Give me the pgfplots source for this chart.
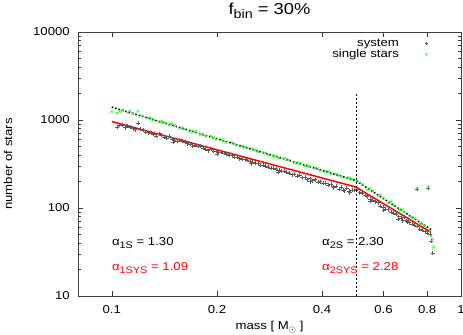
\documentclass[border=0pt]{standalone}
\usepackage{pgfplots}
\usepackage{pgfplotstable}
\pgfplotsset{compat=1.18}
\usepackage{fontspec}
\setmainfont{Liberation Sans}[FakeStretch=1.15]
\newcommand\sub[1]{\raisebox{-0.45ex}{\fontsize{9.5}{10}\selectfont #1}}
\definecolor{ptgreen}{RGB}{40,235,40}
\definecolor{ptgrey}{RGB}{90,90,90}

\pgfplotstableread{
m N
0.1035 830
0.1071 880
0.1109 850
0.1148 800
0.1188 920
0.1229 760
0.1272 720
0.1317 690
0.1363 700
0.1411 640
0.1460 650
0.1500 560
0.1511 590
0.1564 600
0.1619 560
0.1675 530
0.1734 520
0.1795 500
0.1857 470
0.1923 470
0.1990 440
0.2000 410
0.2059 430
0.2132 410
0.2206 395
0.2283 380
0.2363 360
0.2446 350
0.2500 320
0.2532 330
0.2620 320
0.2712 305
0.2807 290
0.2905 285
0.3000 255
0.3007 270
0.3112 265
0.3221 250
0.3334 245
0.3450 235
0.3571 225
0.3696 215
0.3700 200
0.3825 210
0.3959 200
0.4098 190
0.4241 185
0.4300 175
0.4390 178
0.4543 172
0.4600 160
0.4702 168
0.4800 150
0.4867 160
0.5037 165
0.5214 148
0.5396 135
0.5500 120
0.5585 122
0.5780 115
0.5983 102
0.6000 95
0.6192 96
0.6409 88
0.6600 75
0.6633 80
0.6800 72
0.6865 78
0.7000 70
0.7106 68
0.7354 64
0.7480 165
0.7612 58
0.7878 55
0.8050 168
0.8154 50
0.8200 42
0.8300 31
0.1053 870
0.1090 820
0.1128 830
0.1168 780
0.1208 790
0.1250 730
0.1294 705
0.1340 660
0.1387 670
0.1435 620
0.1485 610
0.1537 580
0.1591 570
0.1647 540
0.1704 505
0.1764 500
0.1826 475
0.1890 450
0.1956 445
0.2024 425
0.2095 420
0.2168 400
0.2244 380
0.2322 365
0.2404 355
0.2488 340
0.2576 325
0.2666 310
0.2759 300
0.2856 285
0.2956 275
0.3059 262
0.3166 255
0.3277 240
0.3391 230
0.3510 222
0.3633 210
0.3760 205
0.3891 195
0.4028 190
0.4169 182
0.4315 170
0.4466 165
0.4622 158
0.4784 155
0.4951 160
0.5125 150
0.5304 140
0.5490 125
0.5682 118
0.5881 106
0.6087 98
0.6300 90
0.6521 85
0.6749 76
0.6985 72
0.7230 66
0.7483 62
0.7745 56
0.8015 52
}\systab

\pgfplotstableread{
m N
0.1000 1250
0.1035 1200
0.1071 1290
0.1109 1220
0.1148 1180
0.1188 1260
0.1229 1110
0.1272 1060
0.1317 1010
0.1363 950
0.1411 940
0.1460 880
0.1511 870
0.1564 800
0.1619 790
0.1675 740
0.1734 735
0.1795 690
0.1857 650
0.1923 655
0.1990 600
0.2059 600
0.2132 560
0.2206 555
0.2283 515
0.2363 505
0.2446 480
0.2532 470
0.2620 435
0.2712 430
0.2807 400
0.2905 395
0.3007 370
0.3112 365
0.3221 350
0.3334 325
0.3450 320
0.3571 300
0.3696 295
0.3825 285
0.3959 265
0.4098 262
0.4241 245
0.4390 242
0.4543 225
0.4702 220
0.4867 212
0.5037 205
0.5214 185
0.5396 162
0.5585 155
0.5780 136
0.5983 130
0.6192 114
0.6409 108
0.6633 95
0.6865 90
0.7106 80
0.7354 76
0.7480 168
0.7612 66
0.7878 63
0.8050 172
0.8154 55
0.8200 48
0.8300 44
0.8350 36
0.1053 1240
0.1128 1270
0.1208 1120
0.1294 1040
0.1387 960
0.1485 900
0.1591 815
0.1704 750
0.1826 690
0.1956 630
0.2095 575
0.2244 535
0.2404 490
0.2576 455
0.2759 420
0.2956 385
0.3166 360
0.3391 330
0.3633 305
0.3891 280
0.4169 258
0.4466 235
0.4784 220
0.5125 195
0.5490 168
0.5881 140
0.6300 118
0.6749 96
0.7230 79
0.7745 66
}\singtab

\begin{document}
\fontsize{11.5}{13}\selectfont
\begin{tikzpicture}
\path[use as bounding box] (-78bp,-39bp) rectangle (385bp,296bp);
\begin{axis}[
  at={(0,0)}, anchor=south west,
  scale only axis, width=383bp, height=264bp,
  xmode=log, ymode=log,
  xmin=0.08, xmax=1, ymin=10, ymax=10000,
  xtick={0.1,0.2,0.4,0.6,0.8,1}, xticklabels={0.1,0.2,0.4,0.6,0.8,1},
  minor xtick={},
  ytick={10,100,1000,10000}, yticklabels={10,100,1000,10000},
  tick align=inside, major tick length=5bp, minor tick length=3bp,
  tick style={black!80, line width=0.5pt},
  axis line style={black!75, line width=0.7pt},
  xticklabel style={anchor=base, inner sep=0pt, yshift=-18bp},
  yticklabel style={anchor=east, inner sep=0pt, xshift=-8bp},
  xlabel={mass [ M\sub{$\odot$} ]},
  xlabel style={at={(axis description cs:0.5,0)}, anchor=base, inner sep=0pt, yshift=-34bp},
  ylabel={number of stars},
  ylabel style={at={(axis description cs:0,0.5)}, anchor=center, inner sep=0pt, yshift=70bp},
  title={f\raisebox{-0.45ex}{\fontsize{12.5}{13}\selectfont bin} = 30\%},
  title style={at={(axis description cs:0.5,1)}, anchor=base, inner sep=0pt, yshift=11.5bp, font=\fontsize{16}{18}\selectfont},
  legend style={draw=none, fill=none, at={(axis description cs:0.914,0.977)}, anchor=north east, inner sep=0pt, row sep=0.5bp, nodes={inner sep=0.5bp}, font=\fontsize{11.5}{13}\selectfont},
  legend cell align=right, legend plot pos=right,
  legend image code/.code={\path[draw=none, fill=none] (0cm,0cm) -- (0.95cm,0cm); \draw[#1, only marks, mark size=1.5bp] plot coordinates {(0.95cm,0cm)};},
]
\addplot[only marks, mark=+, mark size=2bp, ptgrey, mark options={line width=0.5pt}] table[x=m,y=N] {\systab};
\addlegendentry{system}
\addplot[only marks, mark=x, mark size=2bp, ptgreen, mark options={line width=0.5pt}] table[x=m,y=N] {\singtab};
\addlegendentry{single stars}
\addplot[forget plot, black, line width=1.5pt, dash pattern=on 1.5bp off 2bp] coordinates {(0.1,1400) (0.5,205) (0.82,57)};
\addplot[forget plot, red, line width=1.5pt] coordinates {(0.1,960) (0.5,173) (0.82,53)};
\addplot[forget plot, black, line width=0.5pt, dash pattern=on 2bp off 2bp] coordinates {(0.5,10) (0.5,2000)};
\node[anchor=west, inner sep=0pt] at (axis cs:0.1,40) {α\sub{1S} = 1.30};
\node[anchor=west, inner sep=0pt, text=red] at (axis cs:0.1,20.8) {α\sub{1SYS} = 1.09};
\node[anchor=west, inner sep=0pt] at (axis cs:0.4,40) {α\sub{2S} = 2.30};
\node[anchor=west, inner sep=0pt, text=red] at (axis cs:0.4,20.8) {α\sub{2SYS} = 2.28};
\end{axis}
\end{tikzpicture}
\end{document}
